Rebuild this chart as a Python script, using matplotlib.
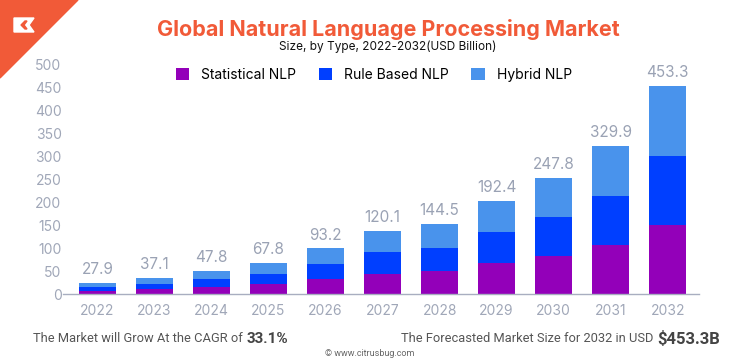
import matplotlib.pyplot as plt
from matplotlib.patches import Polygon
import numpy as np

years = ["2022", "2023", "2024", "2025", "2026", "2027", "2028", "2029", "2030", "2031", "2032"]
statistical = [7, 10, 15, 21, 32, 44, 49.5, 67, 83.6, 107, 150]
rule_based = [8, 12.5, 18, 23.4, 34, 47, 51.5, 68, 84.4, 108, 152]
hybrid = [9, 12.5, 18, 23.3, 34, 46.5, 52, 68, 85, 108, 152]
totals = ["27.9", "37.1", "47.8", "67.8", "93.2", "120.1", "144.5", "192.4", "247.8", "329.9", "453.3"]
series_names = ["Statistical NLP", "Rule Based NLP", "Hybrid NLP"]

colors = ["#9300b9", "#003fff", "#4993ec"]
orange = "#f15a38"
grey = "#a0a7b8"
W, H = 736, 364

plt.rcParams["font.family"] = ["Inter", "DejaVu Sans"]

fig = plt.figure(figsize=(7.36, 3.64), dpi=100)
ax = fig.add_axes([63 / W, 70 / H, 636 / W, 229 / H])

x = np.arange(len(years))
bottom = np.zeros(len(years))
bars = []
for vals, c, name in zip([statistical, rule_based, hybrid], colors, series_names):
    b = ax.bar(x, vals, width=0.65, bottom=bottom, color=c, label=name, zorder=2)
    bars.append(b)
    bottom += np.array(vals)

for xi, top, lab in zip(x, bottom, totals):
    ax.annotate(lab, (xi, top), xytext=(0, 9.5), textcoords="offset points",
                ha="center", va="center", fontsize=11, color="#9aa2b4")

ax.set_xlim(-0.605, 10.55)
ax.set_ylim(0, 500)
ax.set_yticks(range(0, 501, 50))
ax.set_xticks(x)
ax.set_xticklabels(years)
ax.tick_params(axis="both", length=0, colors=grey, labelsize=10)
ax.tick_params(axis="x", pad=7)
ax.tick_params(axis="y", pad=1)
for s in ["top", "right", "left"]:
    ax.spines[s].set_visible(False)
ax.spines["bottom"].set_color("#a8aec0")
ax.spines["bottom"].set_linewidth(1)

# legend
fig.legend(handles=bars, labels=series_names, loc="center", bbox_to_anchor=(374 / W, 1 - 75 / H),
           ncol=3, frameon=False, fontsize=10, handlelength=0.95, handleheight=0.95,
           columnspacing=1.6, handletextpad=0.9)

fig.text(388 / W, 1 - 29 / H, "Global Natural Language Processing Market", ha="center", va="center",
         fontsize=15.5, fontweight="bold", color=orange)
fig.text(388 / W, 1 - 47 / H, "Size, by Type, 2022-2032(USD Billion)", ha="center", va="center",
         fontsize=8.5, color="#111111")

# corner decoration
fig.patches.append(Polygon([(0, 1), (78 / W, 1), (0, 1 - 78 / H)], closed=True,
                           transform=fig.transFigure, color=orange, zorder=0))
fig.patches.append(Polygon([(14 / W, 1 - 18 / H), (34 / W, 1 - 18 / H), (29 / W, 1 - 25 / H),
                            (34 / W, 1 - 32 / H), (14 / W, 1 - 32 / H)], closed=True,
                           transform=fig.transFigure, color="white", zorder=1))
fig.patches.append(Polygon([(25 / W, 1 - 21 / H), (21 / W, 1 - 25 / H), (25 / W, 1 - 29 / H),
                            (27 / W, 1 - 29 / H), (24 / W, 1 - 25 / H), (27 / W, 1 - 21 / H)],
                           closed=True, transform=fig.transFigure, color=orange, zorder=2))

# footer
foot_font = ["Roboto", "DejaVu Sans"]
renderer = fig.canvas.get_renderer()
t1 = fig.text(33 / W, 1 - 339 / H, "The Market will Grow At the CAGR of", ha="left", va="center",
              fontsize=9.3, color="#555555", family=foot_font)
ext = t1.get_window_extent(renderer)
fig.text((ext.x1 + 4) / W, 1 - 339 / H, "33.1%", ha="left", va="center",
         fontsize=11, fontweight="bold", color="#444444", family=foot_font)
t2 = fig.text(720 / W, 1 - 339 / H, "$453.3B", ha="right", va="center",
              fontsize=12, fontweight="bold", color="#444444", family=foot_font)
ext2 = t2.get_window_extent(renderer)
fig.text((ext2.x0 - 4) / W, 1 - 339 / H, "The Forecasted Market Size for 2032 in USD", ha="right", va="center",
         fontsize=9.3, color="#555555", family=foot_font)
fig.text(370 / W, 1 - 353 / H, "\u00a9 www.citrusbug.com", ha="center", va="center",
         fontsize=6.5, color="#666666", family=foot_font)

fig.savefig("out.png", dpi=100)
